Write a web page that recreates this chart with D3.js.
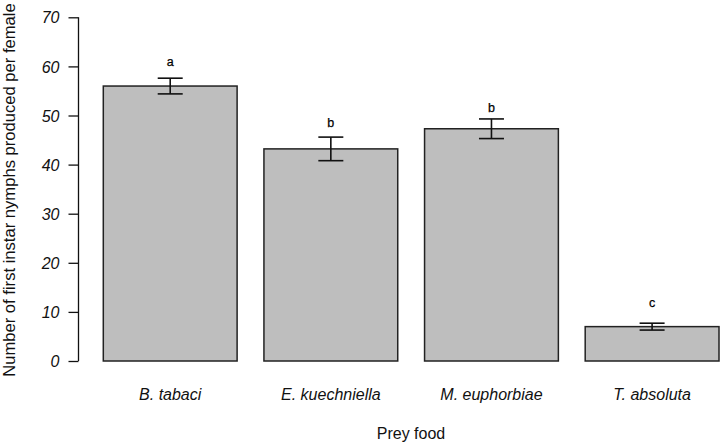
<!DOCTYPE html>
<html><head><meta charset="utf-8">
<script src="https://cdn.jsdelivr.net/npm/d3@7"></script>
<style>body{margin:0;background:#fff}svg{display:block}</style>
</head><body>
<svg id="c" width="720" height="444"></svg>
<script>
const categories = ["B. tabaci", "E. kuechniella", "M. euphorbiae", "T. absoluta"];
const means = [56.0, 43.2, 47.3, 7.0];
const errors = [1.6, 2.4, 2.0, 0.7];
const letters = ["a", "b", "b", "c"];
const letterPos = [60.1, 47.6, 50.8, 11.0];
const yTicks = [0, 10, 20, 30, 40, 50, 60, 70];

const svg = d3.select("#c");
const font = "'Liberation Sans', Arial, sans-serif";

const y = d3.scaleLinear().domain([0, 70]).range([361, 17.3]);
const x = d3.scaleBand().domain(categories).range([103.3, 719]).paddingInner(0.167).paddingOuter(0);

// bars
svg.selectAll("rect.bar").data(categories).enter().append("rect")
  .attr("x", d => x(d))
  .attr("y", (d, i) => y(means[i]))
  .attr("width", x.bandwidth())
  .attr("height", (d, i) => y(0) - y(means[i]))
  .attr("fill", "#bebebe")
  .attr("stroke", "#222")
  .attr("stroke-width", 1.5);

// error bars
const cap = 12.5;
const eg = svg.append("g").attr("stroke", "#111").attr("stroke-width", 1.6);
categories.forEach((c, i) => {
  const cx = x(c) + x.bandwidth() / 2;
  const yt = y(means[i] + errors[i]), yb = y(means[i] - errors[i]);
  eg.append("line").attr("x1", cx).attr("x2", cx).attr("y1", yt).attr("y2", yb);
  eg.append("line").attr("x1", cx - cap).attr("x2", cx + cap).attr("y1", yt).attr("y2", yt);
  eg.append("line").attr("x1", cx - cap).attr("x2", cx + cap).attr("y1", yb).attr("y2", yb);
});

// letters
svg.selectAll("text.let").data(letters).enter().append("text")
  .attr("x", (d, i) => x(categories[i]) + x.bandwidth() / 2)
  .attr("y", (d, i) => y(letterPos[i]))
  .attr("text-anchor", "middle")
  .attr("font-family", font).attr("font-size", 12.5).attr("fill", "#000")
  .attr("stroke", "#000").attr("stroke-width", 0.25)
  .text(d => d);

// y axis
const yAxis = d3.axisLeft(y).tickValues(yTicks).tickSize(10).tickPadding(9);
const gy = svg.append("g").attr("transform", "translate(78.5,0)").call(yAxis);
gy.select(".domain").attr("d", `M0,${y(70)}V${y(0)}`).attr("stroke", "#111").attr("stroke-width", 1.3).attr("fill", "none");
gy.selectAll(".tick line").attr("stroke", "#111").attr("stroke-width", 1.3);
gy.selectAll(".tick text").attr("font-family", font).attr("font-size", 16)
  .attr("font-style", "italic").attr("fill", "#111").attr("dy", "0.35em");

// x labels
svg.selectAll("text.xl").data(categories).enter().append("text")
  .attr("x", d => x(d) + x.bandwidth() / 2)
  .attr("y", 400)
  .attr("text-anchor", "middle")
  .attr("font-family", font).attr("font-size", 16).attr("font-style", "italic").attr("fill", "#111")
  .text(d => d);

// axis titles
svg.append("text").attr("x", 411).attr("y", 439).attr("text-anchor", "middle")
  .attr("font-family", font).attr("font-size", 16).attr("fill", "#111").text("Prey food");
svg.append("text").attr("transform", "translate(14.5,190) rotate(-90)").attr("text-anchor", "middle")
  .attr("font-family", font).attr("font-size", 16.6).attr("fill", "#111")
  .text("Number of first instar nymphs produced per female");
</script>
</body></html>
